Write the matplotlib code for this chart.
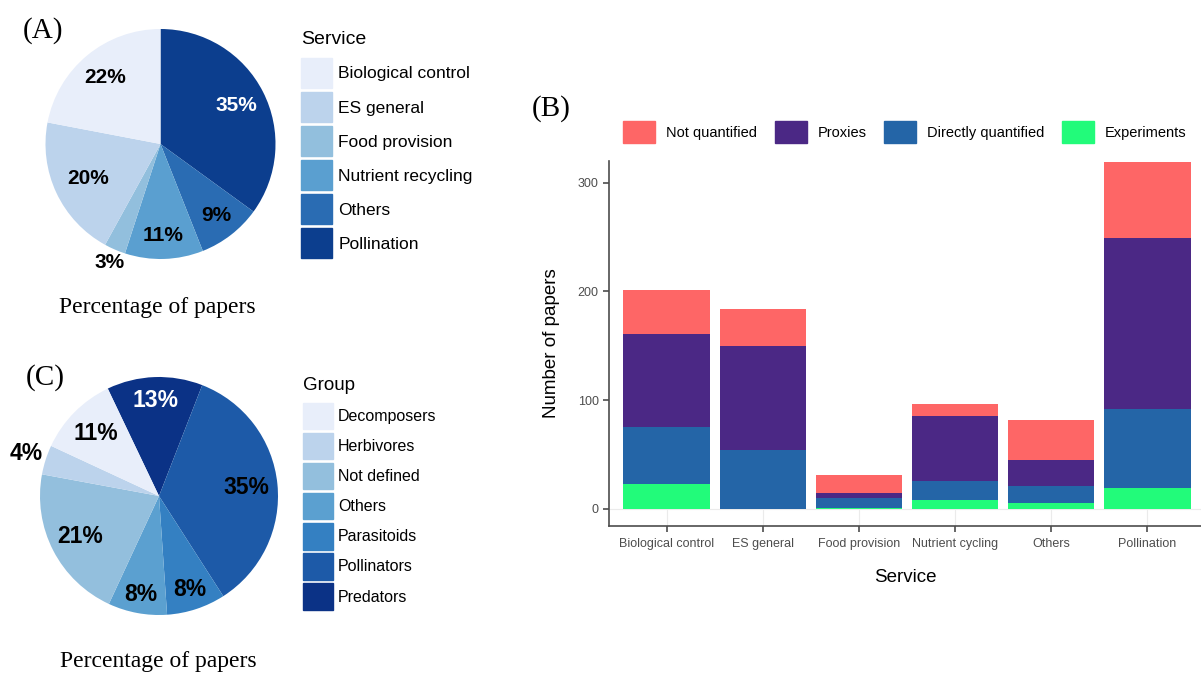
import matplotlib.pyplot as plt
import numpy as np
from matplotlib.patches import Patch

# panel A: share of papers per service
services = ["Biological control", "ES general", "Food provision",
            "Nutrient recycling", "Others", "Pollination"]
service_pct = [22, 20, 3, 11, 9, 35]
service_colors = ["#e8eefa", "#bcd3ec", "#92bfdd", "#5a9fd0", "#2a6cb3", "#0c3e8e"]

# panel C: share of papers per organism group
groups = ["Decomposers", "Herbivores", "Not defined", "Others",
          "Parasitoids", "Pollinators", "Predators"]
group_pct = [11, 4, 21, 8, 8, 35, 13]
group_colors = ["#e8eefa", "#bcd3ec", "#93bfdd", "#5ba0d0", "#3480c2", "#1d5aa8", "#0b3286"]

# panel B: number of papers per service and quantification type
bar_services = ["Biological control", "ES general", "Food provision",
                "Nutrient cycling", "Others", "Pollination"]
experiments = [23, 0, 1, 8, 5, 19]
directly_quantified = [52, 54, 9, 18, 16, 73]
proxies = [86, 96, 5, 59, 24, 157]
not_quantified = [40, 34, 16, 11, 37, 70]
method_names = ["Not quantified", "Proxies", "Directly quantified", "Experiments"]
method_colors = ["#fe6666", "#4b2885", "#2465a7", "#22fb7a"]

W, H = 1201, 677
SANS = ["Liberation Sans", "DejaVu Sans"]
SERIF = ["Liberation Serif", "DejaVu Serif"]
plt.rcParams["font.family"] = SANS


def box(x0, y0, w, h):
    return [x0 / W, 1 - (y0 + h) / H, w / W, h / H]


def draw_pie(ax, values, colors, start, lim, dists, white, size):
    # clockwise from the start angle, last legend entry first
    wedges, _ = ax.pie(values[::-1], colors=colors[::-1], startangle=start,
                       counterclock=False, radius=1,
                       wedgeprops=dict(linewidth=0))
    vals = values[::-1]
    for i, w in enumerate(wedges):
        mid = np.deg2rad((w.theta1 + w.theta2) / 2)
        r = dists[i]
        ax.text(r * np.cos(mid), r * np.sin(mid), f"{vals[i]}%",
                ha="center", va="center", fontsize=size, fontweight="bold",
                color="white" if i in white else "black")
    ax.set_xlim(-lim, lim)
    ax.set_ylim(-lim, lim)
    ax.set_aspect("equal")
    ax.axis("off")


fig = plt.figure(figsize=(W / 100, H / 100), dpi=100)

# ---- (A)
axA = fig.add_axes(box(22.5, 6, 276, 276))
draw_pie(axA, service_pct, service_colors, 90, 1.2,
         [0.74, 0.79, 0.8, 1.12, 0.7, 0.75], [0], 15)
fig.text(301 / W, 1 - 40 / H, "Service", fontsize=14, va="center")
fig.legend([Patch(color=c) for c in service_colors], services,
           loc="upper left", bbox_to_anchor=(301 / W, 1 - 58 / H),
           frameon=False, fontsize=12.5, handlelength=1.8,
           handleheight=2.3, labelspacing=0.22, handletextpad=0.35,
           borderpad=0, borderaxespad=0)
fig.text(23 / W, 1 - 31 / H, "(A)", family=SERIF, fontsize=21, va="center")
fig.text(157 / W, 1 - 307 / H, "Percentage of papers", family=SERIF,
         fontsize=17, ha="center", va="center")

# ---- (C)
axC = fig.add_axes(box(10.25, 347.25, 297.5, 297.5))
draw_pie(axC, group_pct, group_colors, 115.5, 1.25,
         [0.8, 0.74, 0.83, 0.84, 0.75, 1.17, 0.75], [0], 16.5)
fig.text(303 / W, 1 - 386 / H, "Group", fontsize=13.5, va="center")
fig.legend([Patch(color=c) for c in group_colors], groups,
           loc="upper left", bbox_to_anchor=(303 / W, 1 - 403 / H),
           frameon=False, fontsize=11.5, handlelength=1.85,
           handleheight=2.15, labelspacing=0.24, handletextpad=0.35,
           borderpad=0, borderaxespad=0)
fig.text(26 / W, 1 - 378 / H, "(C)", family=SERIF, fontsize=21, va="center")
fig.text(158 / W, 1 - 662 / H, "Percentage of papers", family=SERIF,
         fontsize=17, ha="center", va="center")

# ---- (B)
axB = fig.add_axes(box(609, 161, 596, 364.7))
x = np.arange(1, len(bar_services) + 1)
bottom = np.zeros(len(x))
stack = [experiments, directly_quantified, proxies, not_quantified]
stack_colors = method_colors[::-1]
for vals, col in zip(stack, stack_colors):
    axB.bar(x, vals, bottom=bottom, width=0.9, color=col, linewidth=0, zorder=2)
    bottom += np.array(vals)

axB.set_xlim(0.4, 6.6)
axB.set_ylim(-15.5, 320)
axB.vlines(x, -15.5, 0, color="#ebebeb", linewidth=0.8, zorder=0)
axB.axhline(0, color="#ebebeb", linewidth=0.8, zorder=0)
axB.set_xticks(x)
axB.set_xticklabels(bar_services)
axB.set_yticks([0, 100, 200, 300])
axB.tick_params(labelsize=9, colors="#4d4d4d", length=4, width=1.2)
axB.tick_params(axis="x", pad=5)
for s in ["top", "right"]:
    axB.spines[s].set_visible(False)
for s in ["left", "bottom"]:
    axB.spines[s].set_color("#4d4d4d")
    axB.spines[s].set_linewidth(1.2)
axB.set_ylabel("Number of papers", fontsize=13.5)
axB.yaxis.set_label_coords(-0.083, 0.5)
axB.set_xlabel("Service", fontsize=13.5)
axB.xaxis.set_label_coords(0.497, -0.118)

fig.legend([Patch(color=c) for c in method_colors], method_names, ncol=4,
           loc="center left", bbox_to_anchor=(623 / W, 1 - 132 / H),
           frameon=False, fontsize=10.5, handlelength=2.2, handleheight=1.9,
           handletextpad=0.75, columnspacing=1.2, borderpad=0,
           borderaxespad=0)
fig.text(532 / W, 1 - 109 / H, "(B)", family=SERIF, fontsize=21, va="center")

fig.savefig("out.png", dpi=100)
